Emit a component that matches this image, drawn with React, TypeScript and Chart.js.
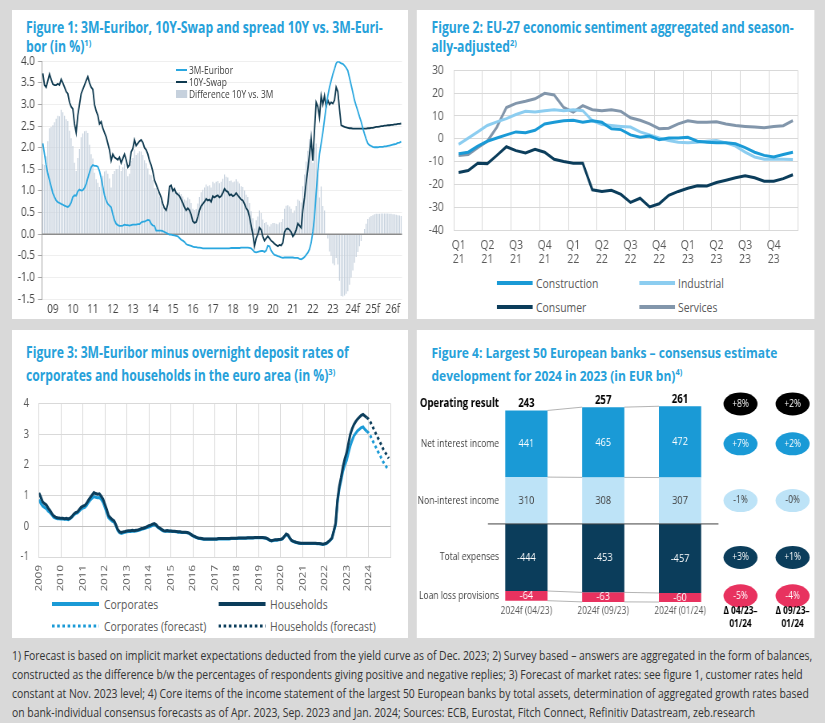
import React, { useEffect, useRef } from 'react';
import { Chart, registerables } from 'chart.js';
Chart.register(...registerables);

// ---------- global look ----------
const SX = 0.8; // horizontal compression of the reference
const X = (v: number) => v / SX;
const FONT = "'Open Sans', 'Noto Sans', sans-serif";
const BG = '#d9d9d9';
const TITLE_COLOR = '#27a1da';
Chart.defaults.font.family = FONT;
Chart.defaults.color = '#595959';

// ---------- Figure 1 data (monthly, 2009-2026) ----------
const years1 = ['09', '10', '11', '12', '13', '14', '15', '16', '17', '18', '19', '20', '21', '22', '23', '24f', '25f', '26f'];
const euribor3m = [
  2.10, 1.85, 1.60, 1.40, 1.25, 1.10, 0.95, 0.86, 0.78, 0.74, 0.72, 0.70,
  0.68, 0.66, 0.64, 0.63, 0.66, 0.73, 0.86, 0.90, 0.89, 0.99, 1.03, 1.01,
  1.02, 1.07, 1.16, 1.30, 1.43, 1.55, 1.60, 1.58, 1.58, 1.56, 1.46, 1.30,
  1.10, 0.90, 0.78, 0.70, 0.66, 0.62, 0.46, 0.32, 0.24, 0.21, 0.19, 0.19,
  0.20, 0.22, 0.21, 0.21, 0.20, 0.21, 0.22, 0.22, 0.22, 0.23, 0.23, 0.27,
  0.29, 0.29, 0.31, 0.33, 0.32, 0.24, 0.20, 0.19, 0.08, 0.08, 0.08, 0.08,
  0.07, 0.05, 0.03, 0.01, -0.01, -0.01, -0.02, -0.03, -0.04, -0.05, -0.09, -0.13,
  -0.15, -0.18, -0.23, -0.25, -0.26, -0.27, -0.29, -0.30, -0.30, -0.31, -0.31, -0.32,
  -0.33, -0.33, -0.33, -0.33, -0.33, -0.33, -0.33, -0.33, -0.33, -0.33, -0.33, -0.33,
  -0.33, -0.33, -0.33, -0.33, -0.33, -0.32, -0.32, -0.32, -0.32, -0.32, -0.32, -0.31,
  -0.31, -0.31, -0.31, -0.31, -0.32, -0.33, -0.37, -0.41, -0.42, -0.41, -0.40, -0.39,
  -0.39, -0.41, -0.38, -0.27, -0.28, -0.38, -0.44, -0.48, -0.49, -0.51, -0.52, -0.54,
  -0.55, -0.54, -0.54, -0.54, -0.54, -0.54, -0.54, -0.55, -0.55, -0.55, -0.57, -0.58,
  -0.56, -0.53, -0.48, -0.43, -0.35, -0.20, 0.05, 0.40, 0.95, 1.45, 1.85, 2.10,
  2.35, 2.65, 2.95, 3.20, 3.40, 3.55, 3.70, 3.82, 3.95, 4.00, 3.98, 3.95,
  3.94, 3.90, 3.85, 3.78, 3.62, 3.45, 3.28, 3.10, 2.97, 2.85, 2.72, 2.60,
  2.45, 2.32, 2.20, 2.10, 2.06, 2.04, 2.02, 2.01, 2.01, 2.01, 2.02, 2.02,
  2.02, 2.03, 2.03, 2.04, 2.05, 2.06, 2.07, 2.08, 2.09, 2.11, 2.12, 2.14,
];
const swap10y = [
  3.72, 3.45, 3.40, 3.55, 3.70, 3.58, 3.47, 3.45, 3.45, 3.48, 3.45, 3.58,
  3.50, 3.40, 3.30, 3.25, 3.05, 2.95, 2.90, 2.55, 2.35, 2.75, 3.00, 3.25,
  3.35, 3.45, 3.55, 3.64, 3.50, 3.40, 3.35, 3.00, 2.85, 2.75, 2.55, 2.60,
  2.45, 2.35, 2.25, 2.10, 1.95, 1.70, 1.85, 1.78, 1.75, 1.72, 1.78, 1.65,
  1.75, 1.85, 1.72, 1.55, 1.60, 1.90, 1.98, 2.18, 2.05, 2.10, 2.15, 2.18,
  2.12, 2.00, 1.95, 1.85, 1.70, 1.60, 1.45, 1.25, 1.15, 1.05, 0.95, 0.85,
  0.70, 0.60, 0.55, 0.70, 1.10, 1.13, 1.00, 1.05, 0.95, 0.92, 0.88, 0.80,
  0.72, 0.62, 0.55, 0.60, 0.55, 0.45, 0.30, 0.26, 0.28, 0.40, 0.55, 0.65,
  0.70, 0.75, 0.82, 0.78, 0.80, 0.75, 0.88, 0.85, 0.88, 0.90, 0.85, 0.88,
  0.95, 1.05, 1.00, 0.98, 0.90, 0.92, 0.88, 0.90, 0.95, 0.90, 0.85, 0.80,
  0.78, 0.70, 0.60, 0.55, 0.40, 0.20, 0.00, -0.28, -0.10, 0.00, 0.15, 0.10,
  -0.05, -0.15, -0.10, -0.05, -0.10, -0.15, -0.18, -0.22, -0.25, -0.28, -0.25, -0.26,
  -0.20, 0.05, 0.12, 0.13, 0.10, 0.05, -0.05, 0.00, 0.10, 0.25, 0.20, 0.15,
  0.55, 0.85, 1.20, 1.50, 1.85, 2.20, 1.70, 2.40, 3.05, 2.95, 2.70, 3.20,
  3.00, 3.20, 2.95, 3.10, 3.00, 3.05, 3.02, 3.10, 3.40, 3.30, 2.90, 2.52,
  2.50, 2.48, 2.47, 2.46, 2.45, 2.45, 2.44, 2.44, 2.44, 2.44, 2.44, 2.44,
  2.44, 2.44, 2.44, 2.45, 2.45, 2.46, 2.46, 2.47, 2.48, 2.48, 2.49, 2.50,
  2.50, 2.51, 2.51, 2.52, 2.52, 2.53, 2.53, 2.54, 2.54, 2.55, 2.55, 2.56,
];

// ---------- Figure 2 data (monthly, Jan 2021 - Dec 2023) ----------
const quarterTicks2 = ['Q1 21', 'Q2 21', 'Q3 21', 'Q4 21', 'Q1 22', 'Q2 22', 'Q3 22', 'Q4 22', 'Q1 23', 'Q2 23', 'Q3 23', 'Q4 23'];
const construction2 = [-6.6, -5.9, -3.2, -1.1, 0.3, 1.7, 3.0, 2.6, 3.7, 6.5, 7.2, 7.9, 8.1, 7.2, 7.9, 7.2, 4.4, 4.0, 1.7, 0.7, 1.2, -0.4, 0.3, 0.3, 0.6, -1.1, -1.5, -1.8, -1.8, -2.2, -3.9, -5.9, -7.3, -8.0, -6.9, -5.9];
const industrial2 = [-2.5, 0.3, 3.0, 5.8, 7.4, 8.8, 10.6, 12.0, 11.7, 12.3, 12.7, 12.3, 12.7, 12.3, 7.9, 6.2, 5.8, 5.4, 5.1, 3.0, 1.7, 0.3, -0.8, -1.5, -1.8, -1.5, -1.1, -0.8, -1.8, -3.2, -5.9, -8.0, -9.0, -9.0, -9.0, -9.1];
const consumer2 = [-14.8, -13.9, -10.7, -10.9, -7.3, -3.5, -5.2, -6.2, -4.6, -5.9, -9.0, -10.0, -10.7, -10.7, -22.4, -23.1, -22.6, -24.4, -27.9, -26.1, -29.9, -28.5, -24.8, -23.1, -21.7, -20.6, -20.7, -19.2, -18.2, -17.1, -16.2, -17.1, -18.6, -18.6, -17.5, -15.8];
const services2 = [-7.3, -6.9, -3.9, -1.1, 5.1, 13.7, 15.5, 16.4, 17.5, 19.9, 19.2, 13.7, 11.7, 14.5, 12.7, 12.3, 12.7, 12.0, 9.2, 8.1, 6.5, 4.4, 4.6, 6.5, 7.9, 7.2, 7.2, 7.4, 6.5, 5.8, 5.4, 5.1, 4.8, 5.4, 5.7, 7.9];

// ---------- Figure 3 data (monthly, Jan 2009 - Dec 2023; forecast Dec 2023 - Dec 2024) ----------
const startYear3 = 2009;
const yearTicks3 = ['2009', '2010', '2011', '2012', '2013', '2014', '2015', '2016', '2017', '2018', '2019', '2020', '2021', '2022', '2023', '2024'];
const corporates3 = [
  0.87, 0.75, 0.66, 0.62, 0.58, 0.50, 0.45, 0.38, 0.30, 0.27, 0.25, 0.25,
  0.24, 0.24, 0.23, 0.23, 0.22, 0.25, 0.30, 0.37, 0.42, 0.44, 0.50, 0.56,
  0.60, 0.62, 0.68, 0.78, 0.86, 0.92, 0.97, 0.95, 0.93, 0.94, 0.88, 0.78,
  0.62, 0.45, 0.28, 0.22, 0.17, 0.14, 0.02, -0.13, -0.21, -0.23, -0.21, -0.19,
  -0.18, -0.17, -0.17, -0.16, -0.16, -0.15, -0.14, -0.12, -0.10, -0.08, -0.06, -0.04,
  -0.02, 0.00, 0.03, 0.05, 0.02, -0.04, -0.08, -0.12, -0.15, -0.16, -0.16, -0.16,
  -0.16, -0.17, -0.17, -0.18, -0.19, -0.19, -0.20, -0.20, -0.20, -0.21, -0.23, -0.27,
  -0.31, -0.34, -0.37, -0.39, -0.40, -0.41, -0.42, -0.42, -0.42, -0.42, -0.42, -0.42,
  -0.42, -0.42, -0.41, -0.41, -0.41, -0.41, -0.41, -0.41, -0.41, -0.40, -0.40, -0.40,
  -0.40, -0.39, -0.39, -0.39, -0.39, -0.39, -0.38, -0.38, -0.38, -0.38, -0.37, -0.37,
  -0.37, -0.37, -0.37, -0.38, -0.39, -0.42, -0.46, -0.48, -0.46, -0.45, -0.45, -0.44,
  -0.43, -0.41, -0.34, -0.27, -0.30, -0.40, -0.47, -0.50, -0.52, -0.54, -0.55, -0.56,
  -0.56, -0.56, -0.56, -0.56, -0.56, -0.56, -0.56, -0.56, -0.57, -0.57, -0.58, -0.59,
  -0.58, -0.56, -0.51, -0.46, -0.39, -0.17, 0.05, 0.78, 1.22, 1.50, 1.80, 2.00,
  2.15, 2.40, 2.62, 2.80, 2.95, 3.04, 3.12, 3.17, 3.22, 3.24, 3.16, 3.10,
];
const households3 = [
  1.09, 0.95, 0.80, 0.74, 0.70, 0.60, 0.52, 0.42, 0.34, 0.30, 0.28, 0.27,
  0.26, 0.26, 0.25, 0.26, 0.24, 0.27, 0.32, 0.40, 0.45, 0.47, 0.55, 0.62,
  0.66, 0.68, 0.75, 0.85, 0.94, 1.02, 1.10, 1.07, 1.05, 1.06, 0.98, 0.88,
  0.72, 0.55, 0.35, 0.28, 0.22, 0.18, 0.05, -0.10, -0.18, -0.20, -0.18, -0.17,
  -0.15, -0.14, -0.14, -0.13, -0.14, -0.13, -0.12, -0.10, -0.07, -0.06, -0.04, -0.01,
  0.02, 0.04, 0.07, 0.09, 0.05, -0.02, -0.06, -0.10, -0.14, -0.15, -0.14, -0.15,
  -0.15, -0.16, -0.16, -0.17, -0.18, -0.18, -0.19, -0.19, -0.19, -0.20, -0.22, -0.26,
  -0.30, -0.33, -0.36, -0.38, -0.39, -0.40, -0.41, -0.41, -0.41, -0.41, -0.41, -0.41,
  -0.41, -0.41, -0.40, -0.40, -0.40, -0.40, -0.40, -0.40, -0.40, -0.39, -0.39, -0.39,
  -0.39, -0.38, -0.38, -0.38, -0.38, -0.38, -0.37, -0.37, -0.37, -0.37, -0.36, -0.36,
  -0.36, -0.36, -0.36, -0.37, -0.38, -0.41, -0.45, -0.47, -0.45, -0.44, -0.44, -0.43,
  -0.42, -0.40, -0.33, -0.25, -0.28, -0.38, -0.46, -0.49, -0.51, -0.53, -0.54, -0.55,
  -0.55, -0.55, -0.55, -0.55, -0.55, -0.55, -0.55, -0.55, -0.56, -0.56, -0.57, -0.58,
  -0.57, -0.55, -0.50, -0.45, -0.38, -0.15, 0.10, 0.85, 1.30, 1.60, 1.94, 2.20,
  2.40, 2.70, 3.00, 3.18, 3.32, 3.42, 3.50, 3.56, 3.62, 3.65, 3.60, 3.55,
];
const corporatesForecast3 = [3.10, 3.05, 2.95, 2.82, 2.70, 2.58, 2.45, 2.35, 2.22, 2.10, 2.00, 1.92, 1.85];
const householdsForecast3 = [3.55, 3.50, 3.40, 3.28, 3.15, 3.02, 2.90, 2.78, 2.65, 2.52, 2.42, 2.32, 2.22];

// ---------- Figure 4 data ----------
const columns4 = ['2024f (04/23)', '2024f (09/23)', '2024f (01/24)'];
const nonInterest4 = [310, 308, 307];
const netInterest4 = [441, 465, 472];
const expenses4 = [-444, -453, -457];
const loanLoss4 = [-64, -63, -60];
const operating4 = [243, 257, 261];
const rowLabels4 = ['Operating result', 'Net interest income', 'Non-interest income', 'Total expenses', 'Loan loss provisions'];
const deltaHeaders4 = [['Δ 04/23–', '01/24'], ['Δ 09/23–', '01/24']];
const deltaA4 = ['+8%', '+7%', '-1%', '+3%', '-5%'];
const deltaB4 = ['+2%', '+2%', '-0%', '+1%', '-4%'];

// ---------- colours ----------
const C_NAVY = '#0b3d5b';
const C_BLUE = '#1a9ad6';
const C_LIGHT = '#bde3f7';
const C_PINK = '#e8325f';
const C_GRAYBLUE = '#8296ab';
const C_LIGHTBLUE2 = '#8ccdf0';
const GRID = '#d9d9d9';

// ---------- helpers ----------
function ChartBox({ left, top, width, height, make }: any) {
  const ref = useRef<HTMLCanvasElement>(null);
  useEffect(() => {
    const chart = new Chart(ref.current as HTMLCanvasElement, make());
    return () => chart.destroy();
  }, []);
  return (
    <div style={{ position: 'absolute', left: X(left), top, width: X(width), height }}>
      <canvas ref={ref} />
    </div>
  );
}

function Txt({ x, y, size, color = '#595959', weight = 400, children }: any) {
  const lh = 16;
  return (
    <div style={{ position: 'absolute', left: X(x), top: y - lh / 2, fontSize: size, lineHeight: lh + 'px', color, fontWeight: weight, whiteSpace: 'nowrap' }}>
      {children}
    </div>
  );
}

function LineSample({ x1, x2, y, color, width, dash }: any) {
  const w = X(x2 - x1);
  return (
    <svg style={{ position: 'absolute', left: X(x1), top: y - 5 }} width={w} height={10}>
      <line x1={0} y1={5} x2={w} y2={5} stroke={color} strokeWidth={width} strokeDasharray={dash} />
    </svg>
  );
}

function Panel({ l, t, w, h }: any) {
  return <div style={{ position: 'absolute', left: X(l), top: t, width: X(w), height: h, background: '#fff' }} />;
}

function Title({ x, top, lh, size, l1, l2, sup }: any) {
  return (
    <div style={{ position: 'absolute', left: X(x), top, fontSize: size, fontWeight: 700, color: TITLE_COLOR, lineHeight: lh + 'px', whiteSpace: 'nowrap' }}>
      {l1}
      <br />
      {l2}
      <span style={{ fontSize: '0.62em', verticalAlign: 'super', lineHeight: 0 }}>{sup}</span>
    </div>
  );
}

// ---------- Figure 1 ----------
const zeroLine1 = {
  id: 'zeroLine1',
  afterDatasetDraw(chart: any, args: any) {
    if (args.index !== 2) return;
    const { ctx, chartArea: ca } = chart;
    const y0 = chart.scales.y.getPixelForValue(0);
    ctx.save();
    ctx.strokeStyle = '#8c8c8c';
    ctx.lineWidth = 1.5;
    ctx.beginPath();
    ctx.moveTo(ca.left, y0);
    ctx.lineTo(ca.right, y0);
    ctx.stroke();
    ctx.restore();
  },
};

function makeFig1() {
  const labels = years1.flatMap((y) => Array.from({ length: 12 }, (_, m) => `${m + 1}/${y}`));
  const spread = swap10y.map((v, i) => Math.round((v - euribor3m[i]) * 100) / 100);
  return {
    data: {
      labels,
      datasets: [
        { type: 'line', label: '3M-Euribor', data: euribor3m, borderColor: '#2aa7df', borderWidth: 1.8, pointRadius: 0, order: 1 },
        { type: 'line', label: '10Y-Swap', data: swap10y, borderColor: '#0f3a50', borderWidth: 1.8, pointRadius: 0, order: 2 },
        { type: 'bar', label: 'Difference 10Y vs. 3M', data: spread, backgroundColor: '#c6d1dd', barPercentage: 0.6, categoryPercentage: 1, order: 3 },
      ],
    },
    options: {
      animation: false,
      responsive: true,
      maintainAspectRatio: false,
      layout: { padding: { top: 11, right: X(6), left: 0, bottom: 0 } },
      plugins: { legend: { display: false }, tooltip: { enabled: false } },
      scales: {
        x: {
          grid: { display: false, drawTicks: false },
          border: { display: false },
          ticks: {
            autoSkip: false, maxRotation: 0, minRotation: 0, padding: 3, font: { size: 12.5 }, color: '#404040',
            callback: (_v: any, i: number) => (i % 12 === 6 ? years1[Math.floor(i / 12)] : ''),
          },
          afterFit: (s: any) => { s.height = 20; },
        },
        y: {
          min: -1.5, max: 4,
          ticks: { stepSize: 0.5, padding: X(3), font: { size: 12.5 }, color: '#404040', callback: (v: any) => Number(v).toFixed(1) },
          grid: { color: '#efefef', tickColor: '#a6a6a6', tickLength: X(4) },
          border: { color: '#a6a6a6' },
          afterFit: (s: any) => { s.width = X(30); },
        },
      },
    },
    plugins: [zeroLine1],
  };
}

// ---------- Figure 2 ----------
function makeFig2() {
  const labels = quarterTicks2.flatMap((q) => [q, q + ' m2', q + ' m3']);
  const ds = (label: string, data: number[], color: string) => ({ type: 'line', label, data, borderColor: color, borderWidth: 3, pointRadius: 0 });
  return {
    type: 'line',
    data: {
      labels,
      datasets: [
        ds('Construction', construction2, C_BLUE),
        ds('Industrial', industrial2, C_LIGHTBLUE2),
        ds('Consumer', consumer2, C_NAVY),
        ds('Services', services2, C_GRAYBLUE),
      ],
    },
    options: {
      animation: false,
      responsive: true,
      maintainAspectRatio: false,
      layout: { padding: { top: 10, right: X(17), left: 0, bottom: 0 } },
      plugins: { legend: { display: false }, tooltip: { enabled: false } },
      scales: {
        x: {
          offset: true,
          grid: {
            offset: true, drawTicks: false,
            color: (ctx: any) => (ctx.index === undefined || ctx.index % 3 === 0 ? GRID : 'rgba(0,0,0,0)'),
          },
          border: { display: true, color: GRID },
          ticks: {
            autoSkip: false, maxRotation: 0, minRotation: 0, padding: 8, font: { size: 13, lineHeight: 1.1 },
            callback: (_v: any, i: number) => (i % 3 === 0 ? quarterTicks2[i / 3].split(' ') : ''),
          },
          afterFit: (s: any) => { s.height = 40; },
        },
        y: {
          min: -40, max: 30,
          ticks: { stepSize: 10, padding: X(10), font: { size: 13 } },
          grid: { color: GRID, drawTicks: false },
          border: { color: GRID },
          afterFit: (s: any) => { s.width = X(37); },
        },
      },
    },
  };
}

// ---------- Figure 3 ----------
function makeFig3() {
  const pts = (arr: number[], off: number) => arr.map((v, i) => ({ x: startYear3 + (off + i) / 12, y: v }));
  const fcStart = corporates3.length - 1;
  return {
    type: 'line',
    data: {
      datasets: [
        { label: 'Households', data: pts(households3, 0), borderColor: C_NAVY, borderWidth: 3, pointRadius: 0, order: 1 },
        { label: 'Corporates', data: pts(corporates3, 0), borderColor: C_BLUE, borderWidth: 3, pointRadius: 0, order: 2 },
        { label: 'Households (forecast)', data: pts(householdsForecast3, fcStart), borderColor: C_NAVY, borderWidth: 3, borderDash: [3, 3], pointRadius: 0, order: 3 },
        { label: 'Corporates (forecast)', data: pts(corporatesForecast3, fcStart), borderColor: C_BLUE, borderWidth: 3, borderDash: [3, 3], pointRadius: 0, order: 4 },
      ],
    },
    options: {
      animation: false,
      responsive: true,
      maintainAspectRatio: false,
      layout: { padding: { top: 10, right: X(5), left: 0, bottom: 0 } },
      plugins: { legend: { display: false }, tooltip: { enabled: false } },
      scales: {
        x: {
          type: 'linear', min: startYear3, max: startYear3 + yearTicks3.length,
          grid: { color: GRID, drawTicks: false },
          border: { color: GRID },
          ticks: {
            stepSize: 1, autoSkip: false, maxRotation: 90, minRotation: 90, padding: 8, font: { size: 11.5 },
            callback: (v: any) => yearTicks3[Math.round(v - startYear3)] ?? '',
          },
          afterFit: (s: any) => { s.height = 37; },
        },
        y: {
          min: -1, max: 4,
          ticks: { stepSize: 1, padding: X(10), font: { size: 12 } },
          grid: { color: (ctx: any) => (ctx.tick && ctx.tick.value === 0 ? '#bfbfbf' : GRID), drawTicks: false },
          border: { color: GRID },
          afterFit: (s: any) => { s.width = X(27); },
        },
      },
    },
  };
}

// ---------- Figure 4 ----------
const fig4Plugin = {
  id: 'fig4',
  afterDatasetsDraw(chart: any) {
    const { ctx, chartArea: ca } = chart;
    const ys = chart.scales.y;
    const metas = [0, 1, 2, 3].map((i) => chart.getDatasetMeta(i));
    const n = columns4.length;
    ctx.save();
    // zero line
    const y0 = ys.getPixelForValue(0);
    ctx.strokeStyle = '#404040';
    ctx.lineWidth = 1;
    ctx.beginPath();
    ctx.moveTo(ca.left, y0);
    ctx.lineTo(ca.right, y0);
    ctx.stroke();
    // connectors
    const levels = (i: number) => [nonInterest4[i] + netInterest4[i], nonInterest4[i], expenses4[i], expenses4[i] + loanLoss4[i]];
    ctx.strokeStyle = '#a0a0a0';
    ctx.lineWidth = 0.8;
    for (let i = 0; i < n - 1; i++) {
      const a = metas[0].data[i];
      const b = metas[0].data[i + 1];
      const la = levels(i);
      const lb = levels(i + 1);
      for (let k = 0; k < 4; k++) {
        ctx.beginPath();
        ctx.moveTo(a.x + a.width / 2, ys.getPixelForValue(la[k]));
        ctx.lineTo(b.x - b.width / 2, ys.getPixelForValue(lb[k]));
        ctx.stroke();
      }
    }
    ctx.textAlign = 'center';
    ctx.textBaseline = 'middle';
    // segment values
    const segData = [nonInterest4, netInterest4, expenses4, loanLoss4];
    for (let d = 0; d < 4; d++) {
      for (let i = 0; i < n; i++) {
        const el = metas[d].data[i];
        ctx.fillStyle = d === 0 ? '#404040' : '#ffffff';
        ctx.font = `11.5px ${FONT}`;
        ctx.fillText(String(segData[d][i]), el.x, (el.y + el.base) / 2);
      }
    }
    // operating result
    for (let i = 0; i < n; i++) {
      const el = metas[1].data[i];
      ctx.fillStyle = '#000';
      ctx.font = `bold 12px ${FONT}`;
      ctx.fillText(String(operating4[i]), el.x, el.y - 7);
    }
    // category labels
    for (let i = 0; i < n; i++) {
      const el = metas[0].data[i];
      ctx.fillStyle = '#595959';
      ctx.font = `10.5px ${FONT}`;
      ctx.fillText(columns4[i], el.x, ca.bottom + 7);
    }
    // rows
    const c0 = (d: number) => (metas[d].data[0].y + metas[d].data[0].base) / 2;
    const rowY = [metas[1].data[0].y - 6.5, c0(1), c0(0), c0(2), c0(3)];
    ctx.textAlign = 'right';
    for (let r = 0; r < rowLabels4.length; r++) {
      ctx.fillStyle = r === 0 ? '#000' : '#404040';
      ctx.font = r === 0 ? `bold 12px ${FONT}` : `10.6px ${FONT}`;
      ctx.fillText(rowLabels4[r], ca.left + X(11), rowY[r]);
    }
    // delta bubbles
    const bubbleColors = ['#000000', C_BLUE, C_LIGHT, C_NAVY, C_PINK];
    const cols = [deltaA4, deltaB4];
    const colX = [ca.right + X(22), ca.right + X(74)];
    ctx.textAlign = 'center';
    for (let c = 0; c < 2; c++) {
      for (let r = 0; r < rowLabels4.length; r++) {
        ctx.fillStyle = bubbleColors[r];
        ctx.beginPath();
        ctx.ellipse(colX[c], rowY[r], X(17), 11.5, 0, 0, Math.PI * 2);
        ctx.fill();
        ctx.fillStyle = r === 2 ? '#404040' : '#ffffff';
        ctx.font = `10.5px ${FONT}`;
        ctx.fillText(cols[c][r], colX[c], rowY[r]);
      }
      ctx.fillStyle = '#000';
      ctx.font = `bold 10.3px ${FONT}`;
      ctx.fillText(deltaHeaders4[c][0], colX[c], ca.bottom + 7);
      ctx.fillText(deltaHeaders4[c][1], colX[c], ca.bottom + 20);
    }
    ctx.restore();
  },
};

function makeFig4() {
  const ds = (label: string, data: number[], color: string) => ({ label, data, backgroundColor: color, stack: 's', barPercentage: 0.55, categoryPercentage: 1 });
  return {
    type: 'bar',
    data: {
      labels: columns4,
      datasets: [
        ds('Non-interest income', nonInterest4, C_LIGHT),
        ds('Net interest income', netInterest4, C_BLUE),
        ds('Total expenses', expenses4, C_NAVY),
        ds('Loan loss provisions', loanLoss4, C_PINK),
      ],
    },
    options: {
      animation: false,
      responsive: true,
      maintainAspectRatio: false,
      layout: { padding: { top: 14, bottom: 34, left: X(71), right: X(96) } },
      plugins: { legend: { display: false }, tooltip: { enabled: false } },
      scales: {
        x: { display: false, stacked: true },
        y: { display: false, stacked: true, min: -530, max: 860 },
      },
    },
    plugins: [fig4Plugin],
  };
}

// ---------- App ----------
const footnoteLines = [
  '1) Forecast is based on implicit market expectations deducted from the yield curve as of Dec. 2023; 2) Survey based – answers are aggregated in the form of balances,',
  'constructed as the difference b/w the percentages of respondents giving positive and negative replies; 3) Forecast of market rates: see figure 1, customer rates held',
  'constant at Nov. 2023 level; 4) Core items of the income statement of the largest 50 European banks by total assets, determination of aggregated growth rates based',
  'on bank-individual consensus forecasts as of Apr. 2023, Sep. 2023 and Jan. 2024; Sources: ECB, Eurostat, Fitch Connect, Refinitiv Datastream, zeb.research',
];

export default function App() {
  return (
    <div
      style={{
        position: 'fixed', left: 0, top: 0, width: X(825), height: 723, background: BG, overflow: 'hidden',
        transform: `scaleX(${SX})`, transformOrigin: '0 0', fontFamily: FONT,
      }}
    >
      <Panel l={12} t={10} w={396} h={309} />
      <Panel l={417} t={10} w={397} h={309} />
      <Panel l={12} t={330} w={396} h={308} />
      <Panel l={417} t={330} w={397} h={308} />

      <Title x={26} top={17.5} lh={19} size={15.3} l1="Figure 1: 3M-Euribor, 10Y-Swap and spread 10Y vs. 3M-Euri-" l2="bor (in %)" sup="1)" />
      <Title x={431.5} top={17.5} lh={19} size={15.2} l1="Figure 2: EU-27 economic sentiment aggregated and season-" l2="ally-adjusted" sup="2)" />
      <Title x={26} top={341} lh={23} size={15.2} l1="Figure 3: 3M-Euribor minus overnight deposit rates of" l2="corporates and households in the euro area (in %)" sup="3)" />
      <Title x={431.5} top={341} lh={23} size={15} l1="Figure 4: Largest 50 European banks – consensus estimate" l2="development for 2024 in 2023 (in EUR bn)" sup="4)" />

      <ChartBox left={12} top={50} width={396} height={269} make={makeFig1} />
      <ChartBox left={417} top={50} width={397} height={220} make={makeFig2} />
      <ChartBox left={12} top={384} width={396} height={210} make={makeFig3} />
      <ChartBox left={417} top={380} width={397} height={258} make={makeFig4} />

      {/* Figure 1 legend */}
      <LineSample x1={176} x2={187} y={69.5} color="#2aa7df" width={1.8} />
      <Txt x={189} y={69.5} size={10.5} color="#404040">3M-Euribor</Txt>
      <LineSample x1={176} x2={187} y={81.5} color="#0f3a50" width={1.8} />
      <Txt x={189} y={81.5} size={10.5} color="#404040">10Y-Swap</Txt>
      <div style={{ position: 'absolute', left: X(176), top: 90, width: X(11), height: 8, background: '#c6d1dd' }} />
      <Txt x={189} y={94} size={10.5} color="#404040">Difference 10Y vs. 3M</Txt>

      {/* Figure 2 legend */}
      <LineSample x1={497} x2={533} y={283} color={C_BLUE} width={4} />
      <Txt x={536} y={283} size={13}>Construction</Txt>
      <LineSample x1={639} x2={675} y={283} color={C_LIGHTBLUE2} width={4} />
      <Txt x={678} y={283} size={13}>Industrial</Txt>
      <LineSample x1={497} x2={533} y={307} color={C_NAVY} width={4} />
      <Txt x={536} y={307} size={13}>Consumer</Txt>
      <LineSample x1={639} x2={675} y={307} color={C_GRAYBLUE} width={4} />
      <Txt x={678} y={307} size={13}>Services</Txt>

      {/* Figure 3 legend */}
      <LineSample x1={52} x2={99} y={603.5} color={C_BLUE} width={4} />
      <Txt x={104} y={603.5} size={13}>Corporates</Txt>
      <LineSample x1={218} x2={265.5} y={603.5} color={C_NAVY} width={4} />
      <Txt x={270} y={603.5} size={13}>Households</Txt>
      <LineSample x1={52} x2={99} y={625.5} color={C_BLUE} width={3} dash={`${X(2.6)} ${X(2.6)}`} />
      <Txt x={104} y={625.5} size={13}>Corporates (forecast)</Txt>
      <LineSample x1={218} x2={265.5} y={625.5} color={C_NAVY} width={3} dash={`${X(2.6)} ${X(2.6)}`} />
      <Txt x={270} y={625.5} size={13}>Households (forecast)</Txt>

      {/* Footnotes */}
      <div style={{ position: 'absolute', left: X(12), top: 645.5, fontSize: 13, lineHeight: '19px', color: '#333', whiteSpace: 'nowrap' }}>
        {footnoteLines.map((l, i) => (
          <div key={i}>{l}</div>
        ))}
      </div>
    </div>
  );
}
